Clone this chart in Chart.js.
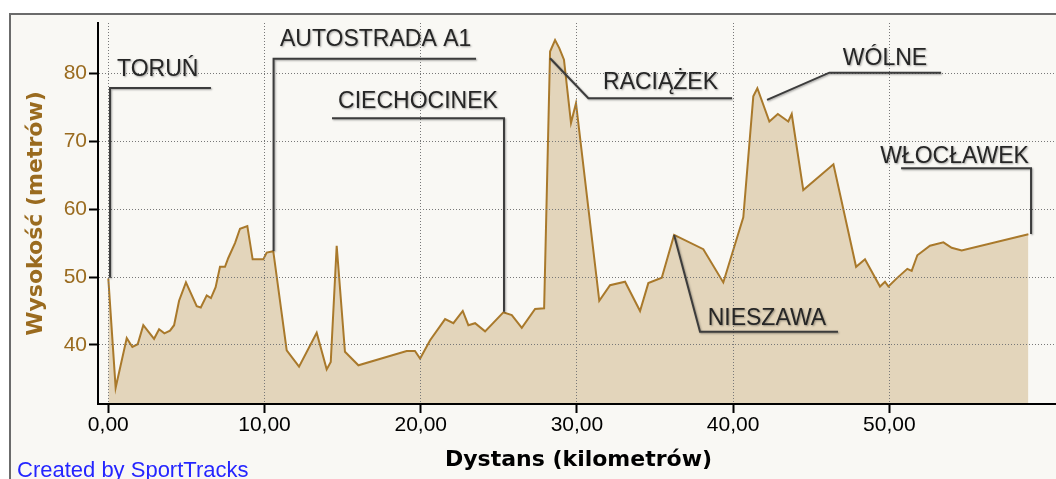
<!DOCTYPE html>
<html>
<head>
<meta charset="utf-8">
<script src="https://cdn.jsdelivr.net/npm/chart.js@4"></script>
<style>
html, body { margin:0; padding:0; background:#fff; overflow:hidden; width:1056px; height:479px; }
#frame { position:absolute; left:9px; top:13px; width:1100px; height:520px; border:2px solid #6b6b6b; background:#f9f8f4; }
#wrap { position:absolute; left:0; top:0; width:1059px; height:479px; }
#credit { position:absolute; left:17px; top:459px; font:22px/22px "Liberation Sans", Arial, sans-serif; color:#2525ff; white-space:nowrap; }
</style>
</head>
<body>
<div id="frame"></div>
<div id="wrap"><canvas id="chart"></canvas></div>
<div id="credit">Created by SportTracks</div>
<script>
// profil wysokości: dystans (km) i wysokość (m)
const distanceKm = [0, 0.47, 1.18, 1.54, 1.88, 2.24, 2.93, 3.25, 3.59, 3.95, 4.21, 4.53, 4.97, 5.66, 5.92, 6.30, 6.57, 6.87,
  7.15, 7.47, 7.68, 8.11, 8.43, 8.90, 9.24, 9.92, 10.14, 10.56, 11.42, 12.21, 13.34, 13.98, 14.24, 14.62, 15.15, 16.01,
  19.10, 19.63, 19.96, 20.60, 21.56, 22.09, 22.69, 23.05, 23.48, 24.12, 25.29, 25.83, 26.47, 27.32, 27.90, 28.28, 28.60,
  28.87, 29.17, 29.62, 29.94, 31.43, 32.12, 33.08, 34.04, 34.57, 35.43, 36.22, 38.09, 39.37, 40.65, 41.29, 41.55, 42.32,
  42.86, 43.53, 43.75, 44.49, 46.42, 47.87, 48.44, 49.40, 49.72, 49.94, 50.47, 51.15, 51.43, 51.79, 52.60, 53.46, 53.99,
  54.63, 58.90];
const elevationM = [49.8, 33.7, 41.0, 39.7, 40.1, 42.9, 40.9, 42.3, 41.7, 42.1, 42.9, 46.5, 49.2, 45.7, 45.5, 47.3, 46.9, 48.5,
  51.5, 51.5, 52.8, 55.0, 57.1, 57.5, 52.6, 52.6, 53.6, 53.8, 39.2, 36.8, 41.8, 36.4, 37.5, 54.6, 39.0, 37.0,
  39.1, 39.1, 38.0, 40.7, 43.8, 43.2, 45.0, 42.9, 43.2, 42.0, 44.8, 44.4, 42.5, 45.3, 45.4, 83.2, 84.9,
  83.7, 82.0, 72.7, 75.6, 46.5, 48.8, 49.3, 45.0, 49.1, 49.9, 56.2, 54.1, 49.2, 58.8, 76.6, 77.8, 72.9,
  74.0, 72.9, 74.0, 62.8, 66.6, 51.5, 52.6, 48.6, 49.3, 48.6, 49.8, 51.2, 50.9, 53.2, 54.6, 55.1, 54.3,
  53.9, 56.3];

const xTickValues = [0, 10, 20, 30, 40, 50];
const xTickLabels = ['0,00', '10,00', '20,00', '30,00', '40,00', '50,00'];
const yTickValues = [40, 50, 60, 70, 80];
const yTickLabels = ['40', '50', '60', '70', '80'];

const placeNames = ['TORUŃ', 'AUTOSTRADA A1', 'CIECHOCINEK', 'RACIĄŻEK', 'WÓLNE', 'WŁOCŁAWEK', 'NIESZAWA'];

// odnośniki: łamana (km, m) i początek napisu (km, m linii bazowej)
const calloutLayout = [
  { path: [[0.11, 49.9], [0.11, 77.84], [6.57, 77.84]], label: [0.56, 79.6] },
  { path: [[10.58, 53.83], [10.58, 82.15], [23.54, 82.15]], label: [10.99, 84.0] },
  { path: [[25.33, 44.89], [25.33, 73.37], [14.32, 73.37]], label: [14.71, 74.89] },
  { path: [[28.28, 82.21], [30.73, 76.32], [39.93, 76.32]], label: [31.67, 77.64] },
  { path: [[42.17, 76.07], [46.16, 80.09], [53.31, 80.09]], label: [47.02, 81.22] },
  { path: [[59.07, 56.33], [59.07, 66.01], [50.75, 66.01]], label: [49.41, 66.83] },
  { path: [[36.22, 56.2], [37.88, 41.92], [46.71, 41.92]], label: [38.37, 42.95] }
];

const SANS = '"Liberation Sans", Arial, sans-serif';
const BROWN = '#9a6b1f';

const callouts = {
  id: 'callouts',
  afterDraw(chart) {
    const { ctx, scales: { x, y } } = chart;
    ctx.save();
    ctx.shadowColor = 'rgba(0,0,0,0.35)';
    ctx.shadowBlur = 2;
    ctx.shadowOffsetX = 1;
    ctx.shadowOffsetY = 1;
    ctx.strokeStyle = '#3c3c3c';
    ctx.lineWidth = 2;
    ctx.fillStyle = '#262626';
    ctx.font = '23px ' + SANS;
    ctx.textBaseline = 'alphabetic';
    ctx.textAlign = 'left';
    calloutLayout.forEach((c, i) => {
      ctx.beginPath();
      c.path.forEach(([km, m], j) => {
        const px = x.getPixelForValue(km), py = y.getPixelForValue(m);
        if (j) ctx.lineTo(px, py); else ctx.moveTo(px, py);
      });
      ctx.stroke();
      ctx.fillText(placeNames[i], x.getPixelForValue(c.label[0]), y.getPixelForValue(c.label[1]));
    });
    ctx.restore();
  }
};

new Chart(document.getElementById('chart'), {
  type: 'line',
  data: {
    datasets: [{
      data: distanceKm.map((d, i) => ({ x: d, y: elevationM[i] })),
      borderColor: '#a9792b',
      backgroundColor: '#e3d5bb',
      borderWidth: 2,
      fill: 'start',
      tension: 0,
      pointRadius: 0
    }]
  },
  options: {
    responsive: true,
    maintainAspectRatio: false,
    animation: false,
    layout: { padding: { top: 23, left: 0, right: 0, bottom: 0 } },
    plugins: { legend: { display: false }, tooltip: { enabled: false } },
    scales: {
      x: {
        type: 'linear',
        min: -0.66,
        max: 60.86,
        afterBuildTicks: s => { s.ticks = xTickValues.map(v => ({ value: v })); },
        afterFit: s => { s.height = 75; },
        ticks: {
          callback: v => xTickLabels[xTickValues.indexOf(v)],
          color: '#000',
          font: { family: SANS, size: 21 },
          padding: 0,
          maxRotation: 0,
          autoSkip: false
        },
        grid: { color: '#787878', lineWidth: 1, tickLength: 9, tickColor: '#000', tickWidth: 2, tickBorderDash: [], z: 1 },
        border: { color: '#000', width: 2, dash: [1, 2], z: 2 },
        title: {
          display: true, text: 'Dystans (kilometrów)', color: '#000',
          font: { family: 'DejaVu Sans', size: 22, weight: 'bold' },
          padding: { top: 0, bottom: 6 }
        }
      },
      y: {
        min: 31.3,
        max: 87.4,
        afterBuildTicks: s => { s.ticks = yTickValues.map(v => ({ value: v })); },
        afterFit: s => { s.width = 98; },
        ticks: {
          callback: v => yTickLabels[yTickValues.indexOf(v)],
          color: BROWN,
          font: { family: SANS, size: 21 },
          padding: 2
        },
        grid: { color: '#787878', lineWidth: 1, tickLength: 9, tickColor: '#000', tickWidth: 2, tickBorderDash: [], z: 1 },
        border: { color: '#000', width: 2, dash: [1, 2], z: 2 },
        title: {
          display: true, text: 'Wysokość (metrów)', color: BROWN,
          font: { family: 'DejaVu Sans', size: 22, weight: 'bold' },
          padding: { top: 23, bottom: 0 }
        }
      }
    }
  },
  plugins: [callouts]
});
</script>
</body>
</html>
